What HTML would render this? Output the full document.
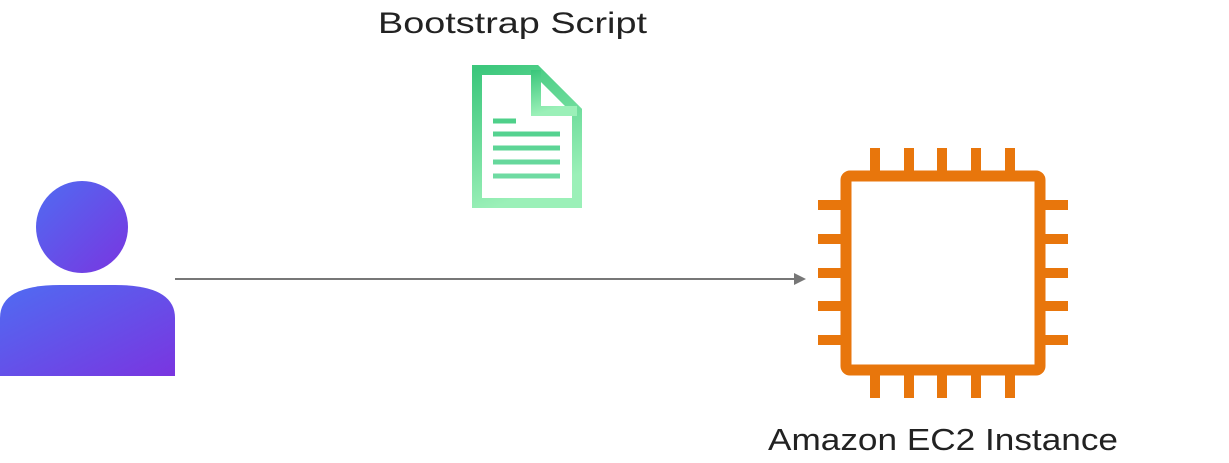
<!DOCTYPE html>
<html><head><style>
html,body{margin:0;padding:0;background:#fff;width:1229px;height:463px;overflow:hidden}
</style></head><body>
<svg width="1229" height="463" xmlns="http://www.w3.org/2000/svg">
<defs>
<linearGradient id="pg" x1="0" y1="0" x2="1" y2="1">
<stop offset="0" stop-color="#4f6cf2"/><stop offset="1" stop-color="#7a35e0"/>
</linearGradient>
<linearGradient id="dg" x1="0" y1="0" x2="0.3" y2="1">
<stop offset="0" stop-color="#3cc77c"/><stop offset="1" stop-color="#9bf0b8"/>
</linearGradient>
</defs>
<text x="378" y="33" textLength="269" lengthAdjust="spacingAndGlyphs" font-family="Liberation Sans, sans-serif" font-size="30" fill="#222">Bootstrap Script</text>
<text x="768" y="450" textLength="350" lengthAdjust="spacingAndGlyphs" font-family="Liberation Sans, sans-serif" font-size="31" fill="#222">Amazon EC2 Instance</text>
<circle cx="82" cy="227" r="46" fill="url(#pg)"/>
<path d="M0 376 L0 318 Q0 285 60 285 L115 285 Q175 285 175 318 L175 376 Z" fill="url(#pg)"/>
<line x1="175" y1="279" x2="796" y2="279" stroke="#777" stroke-width="2"/>
<path d="M806 279 L794 273 L794 285 Z" fill="#777"/>
<path d="M477 70 L536 70 L577 111 L577 203 L477 203 Z" fill="none" stroke="url(#dg)" stroke-width="10"/>
<path d="M536 70 L536 111 L577 111" fill="none" stroke="url(#dg)" stroke-width="10"/>
<g stroke-width="5">
<line x1="493" y1="121" x2="516" y2="121" stroke="#4fd08a"/>
<line x1="493" y1="134" x2="560" y2="134" stroke="#55d290"/>
<line x1="493" y1="148" x2="560" y2="148" stroke="#5dd596"/>
<line x1="493" y1="162" x2="560" y2="162" stroke="#66d89c"/>
<line x1="493" y1="176" x2="560" y2="176" stroke="#6fdba2"/>
</g>
<g fill="#e8760c">
<rect x="846" y="176" width="194" height="194" rx="4" fill="none" stroke="#e8760c" stroke-width="11"/>
<rect x="870" y="148" width="10" height="30"/><rect x="904" y="148" width="10" height="30"/><rect x="937" y="148" width="10" height="30"/><rect x="971" y="148" width="10" height="30"/><rect x="1005" y="148" width="10" height="30"/>
<rect x="870" y="368" width="10" height="30"/><rect x="904" y="368" width="10" height="30"/><rect x="937" y="368" width="10" height="30"/><rect x="971" y="368" width="10" height="30"/><rect x="1005" y="368" width="10" height="30"/>
<rect x="818" y="200" width="30" height="10"/><rect x="818" y="234" width="30" height="10"/><rect x="818" y="268" width="30" height="10"/><rect x="818" y="301" width="30" height="10"/><rect x="818" y="335" width="30" height="10"/>
<rect x="1038" y="200" width="30" height="10"/><rect x="1038" y="234" width="30" height="10"/><rect x="1038" y="268" width="30" height="10"/><rect x="1038" y="301" width="30" height="10"/><rect x="1038" y="335" width="30" height="10"/>
</g>
</svg>
</body></html>
